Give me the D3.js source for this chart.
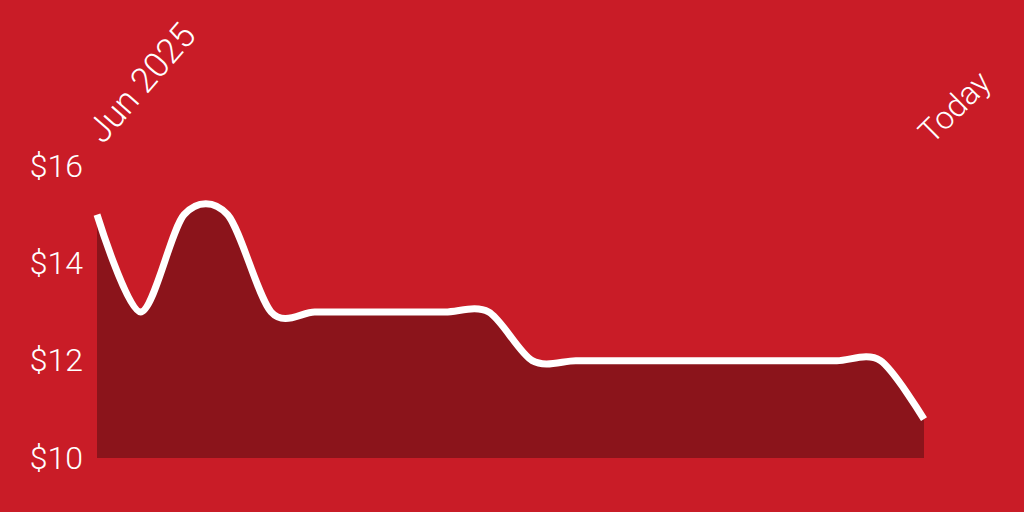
<!DOCTYPE html>
<html>
<head>
<meta charset="utf-8">
<script src="https://cdn.jsdelivr.net/npm/d3@7"></script>
<style>
  html, body { margin: 0; padding: 0; background: #C91C27; }
  svg { display: block; }
  text { font-family: Roboto, "Noto Sans", sans-serif; fill: #ffffff; font-weight: 300; }
</style>
</head>
<body>
<svg id="chart" width="1024" height="512"></svg>
<script>
// Weekly observations, Jun 2025 -> Today
const weeks = d3.range(20);
const prices = [15, 13, 15, 15, 13, 13, 13, 13, 13, 13, 12, 12, 12, 12, 12, 12, 12, 12, 12, 10.8];
const yTicks = [10, 12, 14, 16];
const xLabels = ["Jun 2025", "Today"];

const W = 1024, H = 512;
const margin = { left: 97, right: 100, top: 166, bottom: 54 };

const svg = d3.select("#chart");

svg.append("rect").attr("width", W).attr("height", H).attr("fill", "#C91C27");

const x = d3.scalePoint().domain(weeks).range([margin.left, W - margin.right]);
const y = d3.scaleLinear().domain([10, 16]).range([H - margin.bottom, margin.top]);

const curve = d3.curveCardinal.tension(0.1);

const area = d3.area()
  .x((d, i) => x(weeks[i]))
  .y0(y(10))
  .y1(d => y(d))
  .curve(curve);

const line = d3.line()
  .x((d, i) => x(weeks[i]))
  .y(d => y(d))
  .curve(curve);

svg.append("path")
  .datum(prices)
  .attr("d", area)
  .attr("fill", "#8B141B");

svg.append("path")
  .datum(prices)
  .attr("d", line)
  .attr("fill", "none")
  .attr("stroke", "#ffffff")
  .attr("stroke-width", 7);

// Y axis
const yAxis = d3.axisLeft(y).tickValues(yTicks).tickFormat(d => "$" + d).tickSize(0).tickPadding(14);
const gy = svg.append("g").attr("transform", `translate(${margin.left},0)`).call(yAxis);
gy.select(".domain").remove();
gy.selectAll("text")
  .attr("fill", "#ffffff")
  .style("font-size", "32px")
  .style("font-weight", "300")
  .style("font-family", "Roboto, sans-serif");

// X labels (first and last)
const labelPos = [weeks[0], weeks[weeks.length - 1]];
const labelDx = [6, 8];
const labelAngle = [-49, -45];
const labelSize = [35, 32];
const gx = svg.append("g");
gx.selectAll("text")
  .data(xLabels)
  .join("text")
  .attr("transform", (d, i) => `translate(${x(labelPos[i]) + labelDx[i]},145) rotate(${labelAngle[i]})`)
  .attr("text-anchor", "start")
  .style("font-size", (d, i) => labelSize[i] + "px")
  .text(d => d);
</script>
</body>
</html>
